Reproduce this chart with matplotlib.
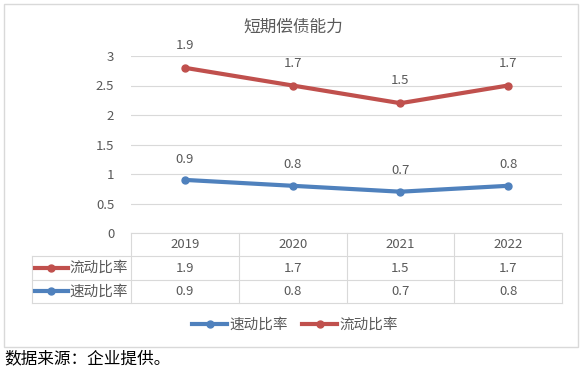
import matplotlib.pyplot as plt
from matplotlib.patches import Rectangle
from matplotlib.lines import Line2D
import numpy as np

plt.rcParams['font.family'] = ['Noto Sans CJK SC', 'DejaVu Sans']

years = ['2019', '2020', '2021', '2022']
quick = [0.9, 0.8, 0.7, 0.8]      # 速动比率
current = [1.9, 1.7, 1.5, 1.7]    # 流动比率
title = '短期偿债能力'
note = '数据来源：企业提供。'

RED = '#C0504D'
BLUE = '#4F81BD'
GRID = '#D9D9D9'
TXT = '#595959'

W, H = 586, 374
fig = plt.figure(figsize=(W / 100, H / 100), dpi=100)

def box(x0, y0, x1, y1):
    return [x0 / W, 1 - y1 / H, (x1 - x0) / W, (y1 - y0) / H]

# outer chart frame
fig.patches.append(Rectangle((4 / W, 1 - 347 / H), 574 / W, 343 / H,
                             transform=fig.transFigure, fill=False,
                             edgecolor=GRID, lw=1))

# stacked line chart
x = np.arange(len(years))
stacked = np.add(quick, current)
ax = fig.add_axes(box(131, 56, 562, 233))
ax.set_xlim(-0.5, 3.5)
ax.set_ylim(0, 3)
ax.set_yticks(np.arange(0, 3.01, 0.5))
ax.set_yticklabels(['0', '0.5', '1', '1.5', '2', '2.5', '3'])
ax.set_xticks([])
ax.tick_params(axis='y', length=0, pad=12, labelsize=9.5, labelcolor=TXT)
for s in ax.spines.values():
    s.set_visible(False)
ax.grid(axis='y', color=GRID, lw=0.8)
ax.set_axisbelow(True)
ax.plot(x, quick, color=BLUE, lw=3, marker='o', ms=5)
ax.plot(x, stacked, color=RED, lw=3, marker='o', ms=5)
for i in range(len(years)):
    ax.annotate(f'{quick[i]}', (x[i], quick[i]), xytext=(0, 15),
                textcoords='offset points', ha='center', va='center',
                fontsize=9.5, color=TXT)
    ax.annotate(f'{current[i]}', (x[i], stacked[i]), xytext=(0, 16),
                textcoords='offset points', ha='center', va='center',
                fontsize=9.5, color=TXT)
fig.text(293 / W, 1 - 27 / H, title, ha='center', va='center', fontsize=12,
         color=TXT)

# data table under the chart
ta = fig.add_axes(box(32, 233, 562, 303))
left = -0.5 - 99 / 107.75
ta.set_xlim(left, 3.5)
ta.set_ylim(3, 0)
ta.axis('off')
lk = dict(color=GRID, lw=0.8, clip_on=False)
ta.plot([-0.5, 3.5], [0, 0], **lk)
for yy in (1, 2, 3):
    ta.plot([left, 3.5], [yy, yy], **lk)
for xx in (-0.5, 0.5, 1.5, 2.5, 3.5):
    ta.plot([xx, xx], [0, 3], **lk)
ta.plot([left, left], [1, 3], **lk)
rows = [('流动比率', current, RED), ('速动比率', quick, BLUE)]
for i, yr in enumerate(years):
    ta.text(i, 0.5, yr, ha='center', va='center', fontsize=9.5, color=TXT)
for r, (name, vals, col) in enumerate(rows):
    yy = r + 1.5
    ta.plot([left + 0.03, left + 0.33], [yy, yy], color=col, lw=3,
            clip_on=False)
    ta.plot([left + 0.18], [yy], color=col, marker='o', ms=5, clip_on=False)
    ta.text(left + 0.35, yy, name, ha='left', va='center', fontsize=10.5,
            color=TXT)
    for i, v in enumerate(vals):
        ta.text(i, yy, f'{v}', ha='center', va='center', fontsize=9.5,
                color=TXT)

# legend
handles = [Line2D([], [], color=BLUE, lw=3, marker='o', ms=5),
           Line2D([], [], color=RED, lw=3, marker='o', ms=5)]
fig.legend(handles, ['速动比率', '流动比率'], loc='center',
           bbox_to_anchor=(295 / W, 1 - 325 / H), ncol=2, frameon=False,
           fontsize=10.5, labelcolor=TXT, handlelength=2.4, handletextpad=0.15,
           columnspacing=1.0)

fig.text(4 / W, 1 - 359 / H, note, ha='left', va='center', fontsize=12,
         color='black')

fig.savefig('out.png', dpi=100)
